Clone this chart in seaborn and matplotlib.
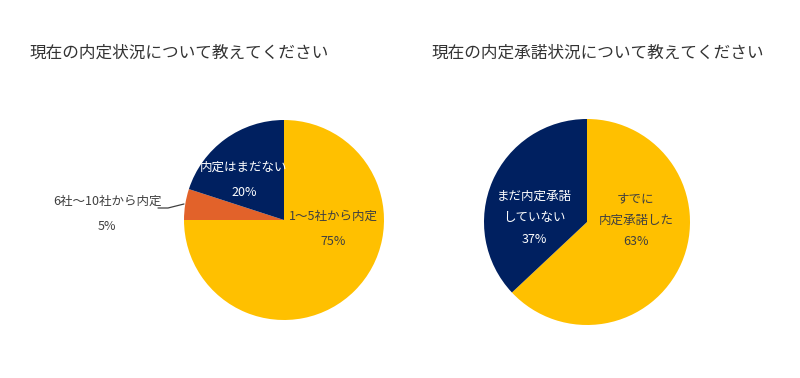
import matplotlib
matplotlib.use("Agg")
import matplotlib.pyplot as plt
import seaborn as sns

# data
left_title = "現在の内定状況について教えてください"
left_labels = ["1～5社から内定", "6社～10社から内定", "内定はまだない"]
left_values = [75, 5, 20]

right_title = "現在の内定承諾状況について教えてください"
right_labels = ["すでに\n内定承諾した", "まだ内定承諾\nしていない"]
right_values = [63, 37]

sns.set_theme(style="white")
plt.rcParams['font.family'] = ['Noto Sans CJK JP', 'DejaVu Sans']

YELLOW = "#FFC000"
NAVY = "#002060"
ORANGE = "#E2622A"
DARK = "#404040"

W, H = 800, 378
fig = plt.figure(figsize=(W / 100, H / 100), dpi=100)
fig.patch.set_facecolor("white")


def pie_axes(cx, cy, r):
    ax = fig.add_axes([(cx - r) / W, 1 - (cy + r) / H, 2 * r / W, 2 * r / H])
    return ax


def fix_limits(ax):
    ax.set_xlim(-1, 1)
    ax.set_ylim(-1, 1)
    ax.set_aspect("equal")
    ax.axis("off")


def px(cx, cy, r, x, y):
    return (x - cx) / r, -(y - cy) / r


# left pie
lcx, lcy, lr = 284, 220, 100
ax1 = pie_axes(lcx, lcy, lr)
ax1.pie(left_values, colors=[YELLOW, ORANGE, NAVY], startangle=90,
        counterclock=False, radius=1, wedgeprops=dict(linewidth=0))
fix_limits(ax1)

x, y = px(lcx, lcy, lr, 333, 229)
ax1.text(x, y, f"{left_labels[0]}\n\n{left_values[0]}%", ha="center", va="center",
         fontsize=9, color=DARK, linespacing=0.95)
x, y = px(lcx, lcy, lr, 244, 180)
ax1.text(x, y, f"{left_labels[2]}\n\n{left_values[2]}%", ha="center", va="center",
         fontsize=9, color="white", linespacing=0.95)
x, y = px(lcx, lcy, lr, 107, 214)
ax1.text(x, y, f"{left_labels[1]}\n\n{left_values[1]}%", ha="center", va="center",
         fontsize=9, color=DARK, linespacing=0.95, clip_on=False)
pts = [px(lcx, lcy, lr, 158, 208), px(lcx, lcy, lr, 168, 208), px(lcx, lcy, lr, 184, 204)]
ax1.plot([p[0] for p in pts], [p[1] for p in pts], color=DARK, linewidth=0.9, clip_on=False)

# right pie
rcx, rcy, rr = 587, 222, 103
ax2 = pie_axes(rcx, rcy, rr)
ax2.pie(right_values, colors=[YELLOW, NAVY], startangle=90,
        counterclock=False, radius=1, wedgeprops=dict(linewidth=0))
fix_limits(ax2)
x, y = px(rcx, rcy, rr, 636, 220)
ax2.text(x, y, f"{right_labels[0]}\n{right_values[0]}%", ha="center", va="center",
         fontsize=9, color=DARK, linespacing=1.85)
x, y = px(rcx, rcy, rr, 534, 218)
ax2.text(x, y, f"{right_labels[1]}\n{right_values[1]}%", ha="center", va="center",
         fontsize=9, color="white", linespacing=1.85)

# titles
fig.text(30 / W, 1 - 53 / H, left_title, ha="left", va="center", fontsize=12, color="#333333")
fig.text(432 / W, 1 - 53 / H, right_title, ha="left", va="center", fontsize=12, color="#333333")

fig.savefig("out.png", dpi=100, facecolor="white")
